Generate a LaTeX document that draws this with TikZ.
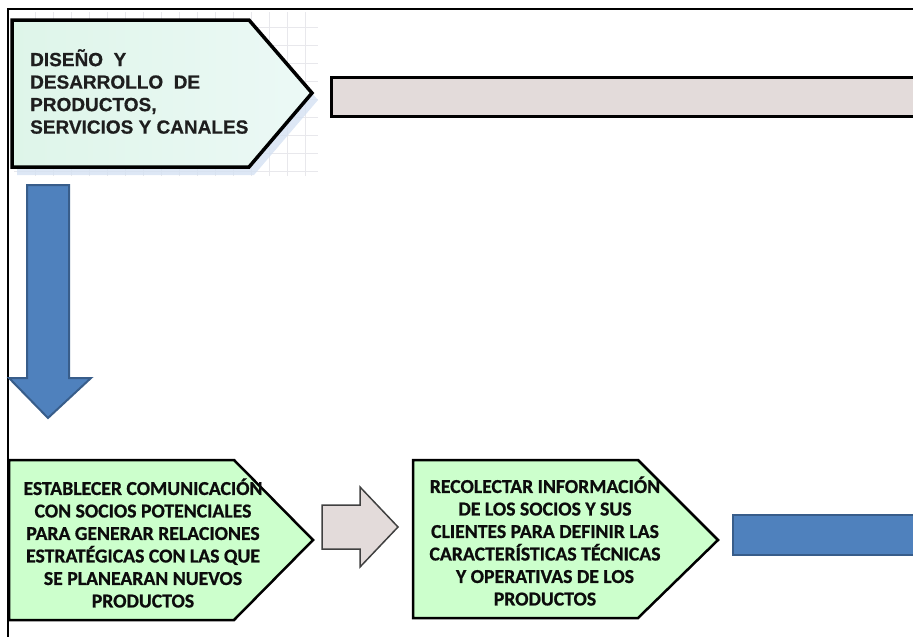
\documentclass[tikz,border=0pt]{standalone}
\usepackage{fontspec}
\setmainfont{Liberation Sans}[BoldFeatures={FakeBold=0.6}]
\newfontfamily\calib{Carlito}[BoldFeatures={FakeBold=0.8}]
\definecolor{boxgreen}{RGB}{204,255,204}
\definecolor{arrowblue}{RGB}{79,129,189}
\definecolor{arrowblueline}{RGB}{56,93,138}
\definecolor{barbeige}{RGB}{227,219,218}
\definecolor{gridgray}{RGB}{232,232,236}
\definecolor{shadowblue}{RGB}{212,225,242}
\definecolor{mintleft}{RGB}{222,245,233}
\definecolor{mintright}{RGB}{236,249,246}
\definecolor{btextcol}{RGB}{12,12,12}
\definecolor{ttextcol}{RGB}{30,30,30}
\begin{document}
\begin{tikzpicture}[x=1pt,y=-1pt,
  greenbox/.style={draw=black, line width=2.5pt, fill=boxgreen, line join=miter},
  bluearrow/.style={draw=arrowblueline, line width=2pt, fill=arrowblue},
  grayshape/.style={fill=barbeige},
  gridline/.style={draw=gridgray, line width=0.7pt},
  btext/.style={font=\calib\bfseries\fontsize{19.7}{22.5}\selectfont, align=center, inner sep=0pt, text=btextcol},
  ttext/.style={font=\bfseries\fontsize{19}{22.5}\selectfont, align=left, inner sep=0pt, text=ttextcol}]
\useasboundingbox (0,0) rectangle (913,637);
% frame
\draw[line width=1.2pt] (8,637) -- (8,9) -- (913,9);
% faint grid behind top box
\foreach \x in {35,53,...,317} \draw[gridline] (\x,12) -- (\x,176);
\foreach \y in {27,45,...,176} \draw[gridline] (14,\y) -- (318,\y);
% shadow
\fill[shadowblue, opacity=0.8] (17,27) -- (254,27) -- (318,100) -- (254,175) -- (17,175) -- cycle;
% top pentagon
\draw[line width=3.5pt, line join=miter, left color=mintleft, right color=mintright]
  (12,20) -- (249,20) -- (312,93) -- (249,167) -- (12,167) -- cycle;
\node[ttext, anchor=north west] (t1) at (30,49) {DISEÑO\ \ Y\\DESARROLLO\ \ DE\\PRODUCTOS,\\SERVICIOS Y CANALES};
% gray bar
\draw[grayshape, draw=black, line width=3pt] (331,77) rectangle (930,116);
\coordinate (bar) at (331,96);
% blue down arrow
\draw[bluearrow] (27,185) -- (69,185) -- (69,378) -- (91,378) -- (48,418) -- (9,378) -- (27,378) -- cycle;
% bottom pentagons
\draw[greenbox] (9,460) -- (234,460) -- (313,540) -- (234,620) -- (9,620) -- cycle;
\node[btext] (b1) at (143,543) {ESTABLECER COMUNICACIÓN\\CON SOCIOS POTENCIALES\\PARA GENERAR RELACIONES\\ESTRATÉGICAS CON LAS QUE\\SE PLANEARAN NUEVOS\\PRODUCTOS};
\draw[grayshape, draw=black!75, line width=1.5pt] (322,505) -- (360,505) -- (360,487) -- (398,527) -- (360,567) -- (360,549) -- (322,549) -- cycle;
\draw[greenbox] (413,460) -- (638,460) -- (718,540) -- (638,618) -- (413,618) -- cycle;
\node[btext] (b2) at (545,541) {RECOLECTAR INFORMACIÓN\\DE LOS SOCIOS Y SUS\\CLIENTES PARA DEFINIR LAS\\CARACTERÍSTICAS TÉCNICAS\\Y OPERATIVAS DE LOS\\PRODUCTOS};
% blue bar
\draw[bluearrow] (733,515) rectangle (930,555);
\end{tikzpicture}
\end{document}
